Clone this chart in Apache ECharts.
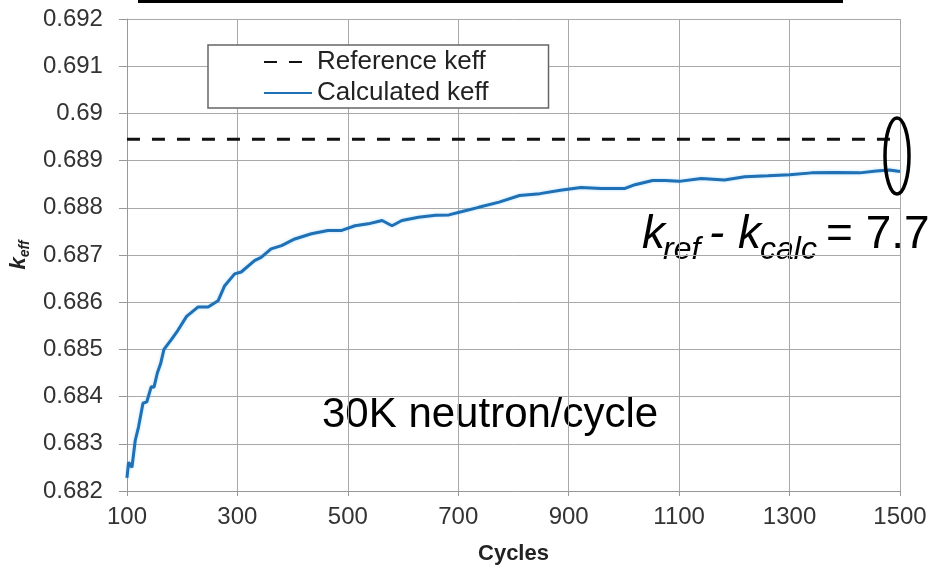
<!DOCTYPE html>
<html>
<head>
<meta charset="utf-8">
<script src="https://cdn.jsdelivr.net/npm/echarts@6/dist/echarts.min.js"></script>
<style>
  html, body { margin: 0; padding: 0; background: #fff; }
  #chart { width: 932px; height: 570px; }
</style>
</head>
<body>
<div id="chart"></div>
<script>
const cycles = [100, 103, 109, 115, 121, 129, 136, 144, 149, 155, 161, 167, 180, 192, 208, 229, 247, 265, 277, 295,
  307, 331, 343, 361, 380, 404, 434, 464, 489, 513, 537, 562, 580, 598, 628, 659, 683, 707, 737, 774,
  811, 848, 885, 922, 959, 1002, 1020, 1052, 1075, 1100, 1140, 1182, 1219, 1261, 1300, 1340, 1382, 1427, 1457, 1481, 1500];
const keffCalc = [0.68228, 0.68261, 0.6825, 0.68307, 0.68336, 0.68386, 0.68389, 0.68421, 0.6842, 0.6845, 0.6847, 0.685, 0.6852, 0.6854, 0.6857, 0.6859, 0.6859, 0.68603, 0.68635, 0.6866,
  0.68664, 0.68688, 0.68695, 0.68713, 0.6872, 0.68734, 0.68745, 0.68752, 0.68752, 0.68762, 0.68766, 0.68773, 0.68762, 0.68773, 0.6878, 0.68784, 0.68785, 0.68792, 0.68801, 0.68812,
  0.68826, 0.6883, 0.68837, 0.68843, 0.68841, 0.68841, 0.68849, 0.68858, 0.68858, 0.68856, 0.68862, 0.68859, 0.68866, 0.68868, 0.6887, 0.68874, 0.68875, 0.68874, 0.68878, 0.6888, 0.68877];
const refCycles = [100, 1500];
const keffRef = 0.68945;

const chart = echarts.init(document.getElementById('chart'), null, { renderer: 'canvas' });

const textFont = 'Liberation Sans, Arial, sans-serif';

const option = {
  animation: false,
  textStyle: { fontFamily: textFont },
  grid: { left: 126, right: 32, top: 19, bottom: 79 },
  legend: {
    orient: 'vertical',
    left: 208,
    top: 45,
    padding: [4, 60, 2, 55],
    itemWidth: 48,
    itemHeight: 14,
    itemGap: 5,
    itemStyle: { opacity: 0 },
    backgroundColor: '#fff',
    borderColor: '#666',
    borderWidth: 1.5,
    borderRadius: 0,
    textStyle: { fontSize: 26, color: '#222', fontFamily: textFont },
    data: ['Reference keff', 'Calculated keff']
  },
  xAxis: {
    type: 'value',
    min: 100,
    max: 1500,
    interval: 200,
    name: 'Cycles',
    nameLocation: 'middle',
    nameGap: 52,
    nameTextStyle: { fontSize: 22, fontWeight: 'bold', color: '#222' },
    axisLine: { lineStyle: { color: '#999', width: 1 } },
    axisTick: { show: true, length: 5, lineStyle: { color: '#999' } },
    axisLabel: { fontSize: 24, color: '#333', margin: 14, formatter: v => String(v) },
    splitLine: { show: true, lineStyle: { color: '#a8a8a8', width: 1 } }
  },
  yAxis: {
    type: 'value',
    min: 0.682,
    max: 0.692,
    interval: 0.001,
    name: '{k|k}{s|eff}',
    nameLocation: 'middle',
    nameRotate: 90,
    nameGap: 94,
    nameTextStyle: {
      rich: {
        k: { fontSize: 22, fontWeight: 'bold', fontStyle: 'italic', color: '#222' },
        s: { fontSize: 14, fontWeight: 'bold', fontStyle: 'italic', color: '#222', padding: [12, 0, 0, 0] }
      }
    },
    axisLine: { show: true, lineStyle: { color: '#999', width: 1 } },
    axisTick: { show: true, length: 8, lineStyle: { color: '#999' } },
    axisLabel: { fontSize: 24, color: '#333', margin: 24 },
    splitLine: { show: true, lineStyle: { color: '#a8a8a8', width: 1 } }
  },
  series: [
    {
      name: 'Reference keff',
      type: 'line',
      symbol: 'none',
      data: refCycles.map(c => [c, keffRef]),
      lineStyle: { color: '#111', width: 3, type: [13, 12] },
      itemStyle: { color: '#111' },
      z: 3
    },
    {
      name: 'Calculated keff',
      type: 'line',
      symbol: 'none',
      data: cycles.map((c, i) => [c, keffCalc[i]]),
      lineStyle: { color: '#1f70b5', width: 3, shadowColor: 'rgba(120,200,255,0.6)', shadowBlur: 3 },
      itemStyle: { color: '#1f70b5' },
      z: 4
    }
  ],
  graphic: [
    { type: 'rect', shape: { x: 138, y: 0, width: 705, height: 3 }, style: { fill: '#000' } },
    {
      type: 'text', left: 322, top: 394,
      style: { text: '30K neutron/cycle', font: '42px ' + textFont, fill: '#000' }
    },
    { type: 'text', x: 642, y: 235, style: { text: 'k', font: 'italic 46px ' + textFont, fill: '#000', verticalAlign: 'middle' } },
    { type: 'text', x: 663, y: 250, style: { text: 'ref', font: 'italic 32px ' + textFont, fill: '#000', verticalAlign: 'middle' } },
    { type: 'text', x: 709, y: 235, style: { text: '-', font: 'italic 46px ' + textFont, fill: '#000', verticalAlign: 'middle' } },
    { type: 'text', x: 738, y: 235, style: { text: 'k', font: 'italic 46px ' + textFont, fill: '#000', verticalAlign: 'middle' } },
    { type: 'text', x: 760, y: 250, style: { text: 'calc', font: 'italic 32px ' + textFont, fill: '#000', verticalAlign: 'middle' } },
    { type: 'text', x: 826, y: 235, style: { text: '= 7.7', font: '46px ' + textFont, fill: '#000', verticalAlign: 'middle' } },
    {
      type: 'ellipse', shape: { cx: 897, cy: 156, rx: 12, ry: 38 },
      style: { fill: 'none', stroke: '#000', lineWidth: 3.5 }, z: 10
    }
  ]
};

chart.setOption(option);
</script>
</body>
</html>
